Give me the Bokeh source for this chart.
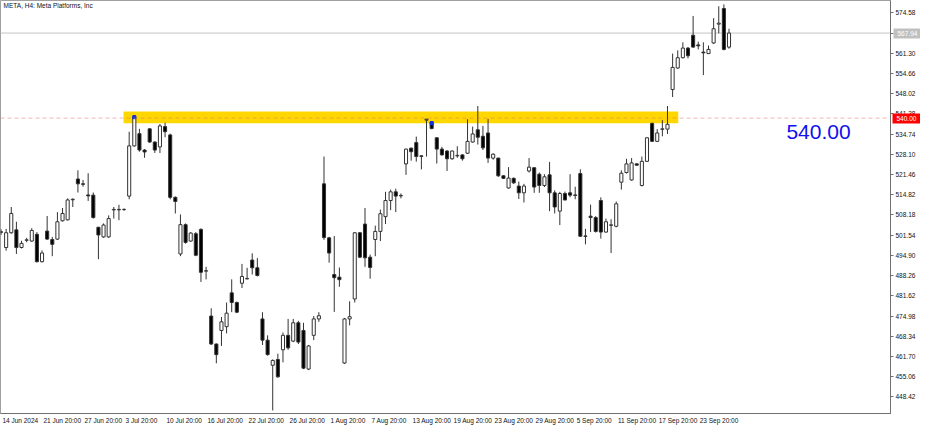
from bokeh.plotting import figure
from bokeh.models import Range1d, FixedTicker, Label, ColumnDataSource, LinearAxis
from bokeh.embed import file_html
from bokeh.resources import INLINE

# ---- data (META, H4) ----
opens = [502.40, 497.49, 502.34, 503.29, 497.49, 499.86, 499.61, 501.83, 492.83, 502.88,
         500.12, 500.25, 506.27, 506.59, 513.18, 520.00, 518.41, 514.76, 514.70, 504.14,
         500.97, 500.97, 509.85, 509.85, 509.95, 514.38, 530.87, 534.89, 529.51, 536.48,
         532.14, 530.55, 537.21, 534.48, 513.97, 495.37, 505.00, 499.61, 502.02, 503.42,
         489.72, 474.98, 465.79, 470.23, 471.49, 482.59, 479.42, 485.76, 487.18, 493.37,
         490.83, 474.03, 467.06, 458.81, 460.72, 463.89, 468.64, 466.74, 472.76, 470.23,
         457.55, 468.64, 474.03, 518.41, 500.66, 488.61, 487.76, 459.54, 474.03, 480.59,
         502.34, 505.19, 494.32, 500.12, 502.78, 507.63, 512.93, 515.78, 514.45, 524.97,
         530.14, 531.95, 527.60, 539.33, 538.70, 533.53, 529.82, 529.19, 526.65, 527.60,
         527.92, 528.46, 532.14, 536.16, 534.04, 535.12, 526.87, 526.87, 521.04, 517.05,
         520.21, 517.68, 515.46, 522.63, 523.70, 521.58, 517.87, 521.36, 515.46, 509.44,
         515.24, 515.46, 514.76, 521.80, 501.29, 507.79, 507.32, 512.93, 502.56, 504.78,
         504.46, 518.95, 522.12, 519.68, 524.97, 517.87, 525.80, 538.28, 532.36, 536.32,
         536.38, 549.38, 556.45, 559.84, 563.01, 567.23, 564.06, 561.68, 561.20, 564.69,
         570.87, 576.01, 563.33]
highs = [503.51, 503.61, 510.80, 505.95, 499.71, 500.66, 503.83, 502.56, 496.54, 507.85,
         500.98, 509.12, 510.48, 513.65, 513.65, 522.85, 519.68, 521.90, 515.56, 504.30,
         505.41, 508.04, 510.80, 511.53, 510.33, 535.53, 540.82, 536.48, 529.82, 536.64,
         532.36, 538.06, 538.47, 534.89, 514.29, 508.36, 505.41, 502.56, 502.56, 503.83,
         491.15, 477.52, 465.95, 474.66, 479.42, 487.03, 479.74, 492.10, 490.83, 495.59,
         494.00, 476.25, 468.64, 460.72, 462.62, 469.59, 474.03, 474.03, 473.40, 472.76,
         465.47, 474.98, 476.25, 527.38, 500.98, 501.29, 490.92, 474.35, 479.83, 502.56,
         502.56, 510.48, 495.17, 504.68, 509.95, 515.78, 516.51, 516.83, 515.24, 529.98,
         530.30, 533.94, 527.76, 539.74, 538.86, 533.63, 530.55, 529.51, 529.35, 530.77,
         528.14, 539.65, 537.21, 543.99, 537.43, 539.74, 528.46, 526.97, 521.26, 523.89,
         520.53, 519.14, 518.41, 526.87, 523.89, 522.12, 521.58, 525.61, 516.29, 515.78,
         515.87, 521.58, 517.46, 523.17, 503.61, 511.59, 507.79, 513.97, 507.00, 506.78,
         512.61, 522.85, 526.65, 526.87, 525.07, 527.38, 533.72, 538.47, 536.38, 539.33,
         543.99, 561.20, 562.25, 564.91, 563.33, 573.57, 565.10, 564.91, 563.84, 572.84,
         576.74, 577.37, 569.35]
lows = [501.61, 496.44, 502.02, 495.37, 497.17, 499.23, 499.39, 492.57, 492.57, 500.02,
        494.64, 500.02, 506.05, 506.36, 510.80, 515.56, 517.46, 512.80, 507.00, 493.68,
        500.66, 500.66, 507.00, 506.46, 509.53, 513.34, 530.62, 528.97, 526.97, 531.88,
        528.55, 528.55, 533.72, 513.34, 508.68, 494.64, 498.76, 499.39, 494.64, 486.17,
        487.03, 465.47, 459.45, 465.15, 469.28, 476.25, 475.93, 484.17, 487.03, 488.61,
        487.98, 465.47, 461.98, 443.96, 454.69, 459.77, 463.89, 466.42, 465.79, 457.55,
        457.23, 467.06, 473.08, 500.02, 492.51, 476.34, 484.59, 459.29, 471.91, 479.42,
        494.00, 491.15, 487.25, 494.64, 499.61, 505.19, 509.76, 509.12, 513.65, 521.36,
        526.02, 525.70, 523.17, 527.38, 536.32, 525.07, 527.70, 522.63, 526.33, 526.97,
        526.02, 528.24, 531.95, 531.31, 529.51, 525.29, 526.33, 520.72, 520.09, 516.83,
        518.41, 513.43, 512.29, 522.12, 515.46, 515.46, 517.36, 509.44, 508.68, 504.87,
        512.93, 513.97, 513.34, 500.98, 498.53, 502.56, 502.40, 500.43, 502.40, 495.68,
        504.14, 516.51, 521.80, 519.46, 524.43, 517.55, 525.61, 532.14, 532.14, 534.04,
        534.80, 546.94, 556.23, 559.62, 559.62, 563.11, 562.57, 554.14, 561.05, 564.38,
        567.86, 562.25, 562.79]
closes = [502.72, 502.34, 508.68, 497.49, 498.85, 500.02, 503.10, 492.83, 495.68, 500.25,
          498.53, 505.95, 508.68, 513.12, 513.34, 518.41, 518.25, 514.45, 507.32, 501.61,
          504.88, 507.00, 510.01, 510.01, 510.01, 530.87, 540.38, 529.51, 528.87, 532.14,
          529.51, 537.43, 535.53, 513.97, 512.61, 505.00, 499.17, 502.24, 494.95, 489.34,
          489.88, 465.79, 462.30, 473.08, 475.93, 479.42, 476.25, 487.98, 487.34, 490.83,
          488.29, 467.06, 462.30, 460.40, 455.01, 468.64, 464.52, 472.76, 466.42, 457.86,
          465.15, 474.03, 475.07, 500.75, 495.68, 487.57, 486.93, 474.03, 474.76, 502.34,
          494.32, 494.10, 490.93, 502.78, 508.58, 512.93, 515.78, 514.38, 514.61, 529.82,
          528.97, 527.38, 527.44, 539.65, 536.57, 529.82, 527.92, 526.65, 529.19, 527.76,
          526.65, 532.36, 534.80, 533.72, 530.23, 526.87, 528.14, 521.04, 520.21, 520.31,
          518.73, 515.46, 517.68, 523.89, 517.36, 517.87, 520.72, 515.46, 510.80, 515.24,
          513.12, 514.70, 514.61, 501.19, 501.14, 507.32, 502.78, 502.56, 505.95, 504.94,
          511.85, 521.90, 524.97, 525.29, 524.53, 525.80, 533.53, 532.36, 535.12, 536.48,
          537.97, 556.67, 559.84, 563.01, 560.48, 563.33, 563.74, 561.43, 562.57, 569.35,
          571.19, 562.57, 567.94]

date_tick_bars = [0, 8, 16, 24, 32, 40, 48, 56, 64, 72, 80, 88, 96, 104, 112, 120, 128, 136]
date_tick_labels = ["14 Jun 2024", "21 Jun 20:00", "27 Jun 20:00", "3 Jul 20:00", "10 Jul 20:00",
                    "16 Jul 20:00", "22 Jul 20:00", "26 Jul 20:00", "1 Aug 20:00", "7 Aug 20:00",
                    "13 Aug 20:00", "19 Aug 20:00", "23 Aug 20:00", "29 Aug 20:00", "5 Sep 20:00",
                    "11 Sep 20:00", "17 Sep 20:00", "23 Sep 20:00"]
price_ticks = [448.42, 455.06, 461.70, 468.34, 474.98, 481.62, 488.26, 494.90, 501.54, 508.18,
               514.82, 521.46, 528.10, 534.74, 541.38, 548.02, 554.66, 561.30, 567.94, 574.58]

level_price = 540.00
zone_bottom = 538.28
zone_top = 542.20
zone_start_bar = 24
zone_end_bar = 132
last_price = 567.94
touch_bars = [26, 84]
title_text = "META, H4:  Meta Platforms, Inc"

FONT = "Liberation Sans"
FS = 6.5
SMALL = f"{FS}px"
W, H = 920, 426
X0, X1 = -0.1, 173.5
Y0, Y1 = 442.96, 578.64

# approximate text width (Liberation Sans metrics) so date labels can start at their bar
CHAR_EM = {c: 0.556 for c in "0123456789"}
CHAR_EM.update({" ": 0.278, ":": 0.278, ".": 0.278, "J": 0.5, "u": 0.556, "n": 0.556, "l": 0.222,
                "A": 0.667, "g": 0.556, "S": 0.667, "e": 0.556, "p": 0.556})
def text_px(s):
    return sum(CHAR_EM.get(ch, 0.556) for ch in s) * FS

axis_px = 27
px_per_bar = (W - axis_px) / (X1 - X0)
label_centers = [b + (text_px(s) / 2 + 1.5) / px_per_bar for b, s in zip(date_tick_bars, date_tick_labels)]

# ---- figure ----
p = figure(width=W, height=H, output_backend="svg", toolbar_location=None,
           x_range=Range1d(X0, X1), y_range=Range1d(Y0, Y1),
           y_axis_location="right", min_border_left=0, min_border_top=0,
           min_border_right=0, min_border_bottom=0)
p.grid.visible = False
p.outline_line_color = "#a0a0a0"
p.background_fill_color = "white"

idx = list(range(len(opens)))
bull = [c >= o for o, c in zip(opens, closes)]
src = ColumnDataSource(dict(
    x=idx, o=opens, h=highs, l=lows, c=closes,
    top=[max(o, c) for o, c in zip(opens, closes)],
    bot=[min(o, c) for o, c in zip(opens, closes)],
    fill=["white" if b else "black" for b in bull],
))

# zone rectangle
p.quad(left=[zone_start_bar - 0.1], right=[zone_end_bar + 0.1], bottom=[zone_bottom], top=[zone_top],
       fill_color="#ffd700", line_color=None)

# current price line
p.segment(x0=[X0], x1=[X1], y0=[last_price], y1=[last_price], line_color="#c4c4c4", line_width=1)

# candles
p.segment(x0="x", x1="x", y0="l", y1="h", source=src, line_color="#333333", line_width=1)
p.vbar(x="x", top="top", bottom="bot", width=0.6, source=src, fill_color="fill",
       line_color="#333333", line_width=1)

# touch markers
p.rect(x=touch_bars, y=[highs[i] - 0.5 for i in touch_bars], width=0.6, height=1.0,
       fill_color="#1030e0", line_color="#1030e0")

# 540 level dashed line
p.segment(x0=[X0], x1=[X1], y0=[level_price], y1=[level_price], line_color="#e87070",
          line_alpha=0.5, line_width=1, line_dash="4 3")

# ---- axes ----
p.yaxis.ticker = FixedTicker(ticks=price_ticks)
p.yaxis.major_label_overrides = {t: f"{t:.2f}" for t in price_ticks}
p.xaxis.ticker = FixedTicker(ticks=label_centers)
p.xaxis.major_label_overrides = {c: s for c, s in zip(label_centers, date_tick_labels)}
for ax in (p.xaxis, p.yaxis):
    ax.major_label_text_font = FONT
    ax.major_label_text_font_size = SMALL
    ax.major_label_text_color = "#111111"
    ax.axis_line_color = "#707070"
    ax.major_tick_line_color = "#707070"
    ax.major_tick_in = 0
    ax.major_tick_out = 3
    ax.minor_tick_line_color = None
    ax.major_label_standoff = 2
p.xaxis.major_tick_line_color = None
p.xaxis.major_tick_out = 0
p.xaxis.major_label_standoff = 3

# price tags on the price scale (red level tag, grey last-price tag):
# extra right axes whose thick tick reaches back over the price labels, taking no extra width
def tag_axis(price, color):
    return LinearAxis(ticker=FixedTicker(ticks=[price]),
                      major_label_overrides={price: f"{price:.2f}"},
                      major_tick_in=26, major_tick_out=3, major_tick_line_width=10,
                      major_tick_line_color=color, minor_tick_line_color=None,
                      axis_line_color=None, major_label_standoff=-25,
                      major_label_text_color="white", major_label_text_font=FONT,
                      major_label_text_font_size=SMALL)
p.add_layout(tag_axis(level_price, "#ff0000"), "right")
p.add_layout(tag_axis(last_price, "#c0c0c0"), "right")

# ---- labels ----
p.add_layout(Label(x=X0 + 0.6, y=578.1, text=title_text, text_font=FONT,
                   text_font_size=SMALL, text_color="#111111", text_baseline="top", text_align="left"))
p.add_layout(Label(x=153.2, y=535.5, text=f"{level_price:.2f}", text_font=FONT,
                   text_font_size="21px", text_color="#1010ee", text_baseline="middle", text_align="left"))

open("out.html", "w").write(file_html(p, INLINE))
